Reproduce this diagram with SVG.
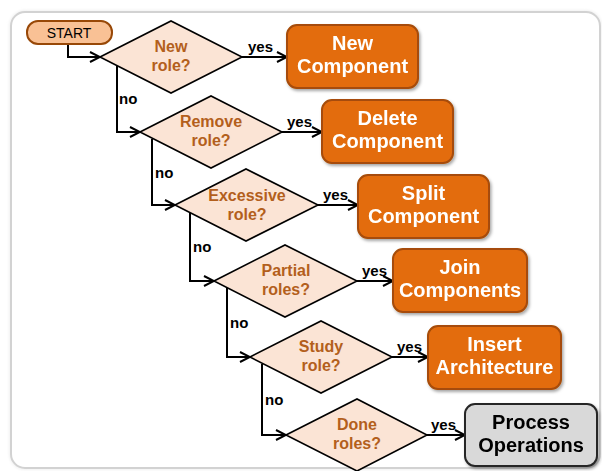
<svg xmlns="http://www.w3.org/2000/svg" width="602" height="471" viewBox="0 0 602 471">
  <defs>
    <marker id="arrow" viewBox="0 0 12 12" refX="11" refY="6" markerWidth="12" markerHeight="12" markerUnits="userSpaceOnUse" orient="auto">
      <path d="M1,1 L11,6 L1,11" fill="none" stroke="#000" stroke-width="2" stroke-linejoin="miter"/>
    </marker>
    <filter id="shadow" x="-10%" y="-10%" width="125%" height="130%">
      <feDropShadow dx="1.5" dy="2" stdDeviation="1.5" flood-color="#000" flood-opacity="0.35"/>
    </filter>
    <filter id="frameShadow" x="-5%" y="-5%" width="110%" height="110%">
      <feGaussianBlur stdDeviation="1.5"/>
    </filter>
  </defs>
  <style>
    .frame { fill: #ffffff; stroke: #d2d2d2; stroke-width: 2; }
    .frame-inner { fill: none; stroke: #ececec; stroke-width: 3; }
    .start { fill: #f9c195; stroke: #984807; stroke-width: 2; }
    .start-text { font-family: "Liberation Sans", Arial, sans-serif; font-size: 14px; fill: #000; text-anchor: middle; }
    .decision { fill: #fbe4d5; stroke: #000; stroke-width: 1.6; }
    .decision-text { font-family: "Liberation Sans", Arial, sans-serif; font-size: 16px; font-weight: bold; fill: #b35f1c; text-anchor: middle; }
    .action { fill: #e36c09; stroke: #a64c07; stroke-width: 2; }
    .action-text { font-family: "Liberation Sans", Arial, sans-serif; font-size: 20px; font-weight: bold; fill: #ffffff; text-anchor: middle; }
    .final { fill: #d9d9d9; stroke: #262626; stroke-width: 2; }
    .final-text { font-family: "Liberation Sans", Arial, sans-serif; font-size: 20px; font-weight: bold; fill: #000; text-anchor: middle; }
    .edge { fill: none; stroke: #000; stroke-width: 2; marker-end: url(#arrow); }
    .label { font-family: "Liberation Sans", Arial, sans-serif; font-size: 15px; font-weight: bold; fill: #000; }
  </style>

  <!-- background panel -->
  <rect x="11" y="12" width="589" height="456" rx="14" class="frame-inner" filter="url(#frameShadow)"/>
  <rect x="11" y="12" width="589" height="456" rx="14" class="frame"/>

  <!-- connectors -->
  <g id="connectors">
    <path class="edge" d="M68,44 V57 H100"/>
    <path class="edge" d="M242,57 H287"/>
    <path class="edge" d="M117,65 V132 H140"/>
    <path class="edge" d="M282,132 H322"/>
    <path class="edge" d="M152,139 V205 H175"/>
    <path class="edge" d="M318,205 H358"/>
    <path class="edge" d="M190,213 V281 H214"/>
    <path class="edge" d="M357,281 H393"/>
    <path class="edge" d="M227,288 V357 H250"/>
    <path class="edge" d="M392,357 H428"/>
    <path class="edge" d="M262,364 V435 H286"/>
    <path class="edge" d="M427,435 H465"/>

    <text class="label" x="248" y="52">yes</text>
    <text class="label" x="287" y="127">yes</text>
    <text class="label" x="323" y="200">yes</text>
    <text class="label" x="362" y="276">yes</text>
    <text class="label" x="397" y="352">yes</text>
    <text class="label" x="431" y="430">yes</text>

    <text class="label" x="119" y="104">no</text>
    <text class="label" x="155" y="178">no</text>
    <text class="label" x="193" y="252">no</text>
    <text class="label" x="230" y="328">no</text>
    <text class="label" x="265" y="405">no</text>
  </g>

  <g id="start">
    <rect class="start" x="27" y="21" width="85" height="23" rx="11"/>
    <text class="start-text" x="69" y="38">START</text>
  </g>

  <g id="q-new">
    <polygon class="decision" points="100,57 171,21 242,57 171,93"/>
    <text class="decision-text" x="171" y="52">New</text>
    <text class="decision-text" x="171" y="71">role?</text>
  </g>
  <g id="q-remove">
    <polygon class="decision" points="140,132 211,96 282,132 211,168"/>
    <text class="decision-text" x="211" y="127">Remove</text>
    <text class="decision-text" x="211" y="146">role?</text>
  </g>
  <g id="q-excessive">
    <polygon class="decision" points="175,205 246,169 318,205 246,241"/>
    <text class="decision-text" x="247" y="201">Excessive</text>
    <text class="decision-text" x="247" y="220">role?</text>
  </g>
  <g id="q-partial">
    <polygon class="decision" points="214,281 285,245 357,281 285,317"/>
    <text class="decision-text" x="286" y="276">Partial</text>
    <text class="decision-text" x="286" y="295">roles?</text>
  </g>
  <g id="q-study">
    <polygon class="decision" points="250,357 321,321 392,357 321,393"/>
    <text class="decision-text" x="321" y="352">Study</text>
    <text class="decision-text" x="321" y="371">role?</text>
  </g>
  <g id="q-done">
    <polygon class="decision" points="286,435 357,399 427,435 357,471"/>
    <text class="decision-text" x="357" y="430">Done</text>
    <text class="decision-text" x="357" y="449">roles?</text>
  </g>

  <g id="new-component" filter="url(#shadow)">
    <rect class="action" x="287" y="25" width="131" height="63" rx="10"/>
    <text class="action-text" x="352.5" y="50">New</text>
    <text class="action-text" x="352.5" y="73">Component</text>
  </g>
  <g id="delete-component" filter="url(#shadow)">
    <rect class="action" x="322" y="100" width="131" height="63" rx="10"/>
    <text class="action-text" x="387.5" y="125">Delete</text>
    <text class="action-text" x="387.5" y="148">Component</text>
  </g>
  <g id="split-component" filter="url(#shadow)">
    <rect class="action" x="358" y="175" width="131" height="63" rx="10"/>
    <text class="action-text" x="423.5" y="200">Split</text>
    <text class="action-text" x="423.5" y="223">Component</text>
  </g>
  <g id="join-components" filter="url(#shadow)">
    <rect class="action" x="393" y="249" width="134" height="63" rx="10"/>
    <text class="action-text" x="460" y="274">Join</text>
    <text class="action-text" x="460" y="297">Components</text>
  </g>
  <g id="insert-architecture" filter="url(#shadow)">
    <rect class="action" x="428" y="326" width="133" height="63" rx="10"/>
    <text class="action-text" x="494.5" y="351">Insert</text>
    <text class="action-text" x="494.5" y="374">Architecture</text>
  </g>
  <g id="process-operations" filter="url(#shadow)">
    <rect class="final" x="465" y="404" width="132" height="62" rx="10"/>
    <text class="final-text" x="531" y="429">Process</text>
    <text class="final-text" x="531" y="452">Operations</text>
  </g>
</svg>
